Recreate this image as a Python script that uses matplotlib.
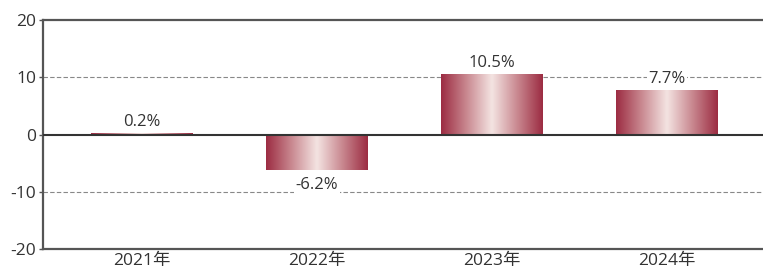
import numpy as np
import matplotlib
matplotlib.use("Agg")
import matplotlib.pyplot as plt
from matplotlib.colors import LinearSegmentedColormap

plt.rcParams['font.family'] = ['Open Sans', 'Noto Sans CJK SC', 'DejaVu Sans']

categories = ['2021年', '2022年', '2023年', '2024年']
values = [0.2, -6.2, 10.5, 7.7]
labels = ['0.2%', '-6.2%', '10.5%', '7.7%']
yticks = [-20, -10, 0, 10, 20]
ytick_labels = ['-20', '-10', '0', '10', '20']

fig = plt.figure(figsize=(7.63, 2.75), dpi=100)
ax = fig.add_axes([0.0564, 0.0945, 0.9436, 0.8327])

x = np.arange(len(categories))
width = 0.58
bars = ax.bar(x, values, width=width, color='none', edgecolor='none', zorder=3)

cmap = LinearSegmentedColormap.from_list('g', [
    (0.0, '#9c2c42'), (0.25, '#c98890'), (0.5, '#f4e4e2'),
    (0.75, '#c98890'), (1.0, '#9c2c42')])
grad = np.linspace(0, 1, 256).reshape(1, -1)
for b in bars:
    x0, y0 = b.get_x(), b.get_y()
    w, h = b.get_width(), b.get_height()
    ax.imshow(grad, cmap=cmap, aspect='auto', extent=[x0, x0 + w, y0, y0 + h],
              zorder=3, interpolation='bicubic')

for xi, v, lab in zip(x, values, labels):
    if v >= 0:
        ax.text(xi, v + 0.6, lab, ha='center', va='bottom', fontsize=12,
                color='#333333', zorder=5,
                bbox=dict(facecolor='white', edgecolor='none', pad=1))
    else:
        ax.text(xi, v - 1.2, lab, ha='center', va='top', fontsize=12,
                color='#333333', zorder=5,
                bbox=dict(facecolor='white', edgecolor='none', pad=1))

ax.set_xlim(-0.566, 3.548)
ax.set_ylim(-20, 20)
ax.set_yticks(yticks)
ax.set_yticklabels(ytick_labels)
ax.set_xticks(x)
ax.set_xticklabels(categories)
for yv in [10, -10]:
    ax.axhline(yv, color='#888888', lw=0.8, ls=(0, (4, 2)), zorder=1)
ax.axhline(0, color='#333333', lw=1.5, zorder=4)

ax.spines['right'].set_visible(False)
for s in ['left', 'top', 'bottom']:
    ax.spines[s].set_color('#555555')
    ax.spines[s].set_linewidth(1.6)
ax.tick_params(axis='y', length=3, width=1, color='#555555', labelsize=12.5, labelcolor='#333333', pad=2)
ax.tick_params(axis='x', length=0, labelsize=12.5, labelcolor='#333333', pad=3)

fig.savefig('out.png', dpi=100)
